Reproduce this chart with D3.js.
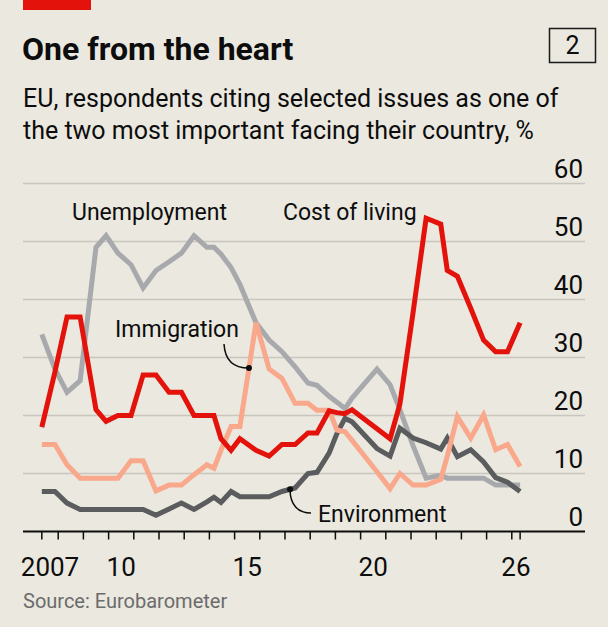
<!DOCTYPE html>
<html>
<head>
<meta charset="utf-8">
<script src="https://cdn.jsdelivr.net/npm/d3@7"></script>
<style>
  body { margin: 0; background: #eae8df; }
  svg { display: block; }
  text { font-family: "Roboto", "Liberation Sans", sans-serif; fill: #0d0d0d; }
</style>
</head>
<body>
<figure id="chart" style="margin:0"></figure>
<script>
// survey waves (decimal years)
const dates = [2007.35, 2007.87, 2008.35, 2008.87, 2009.5, 2009.9, 2010.37, 2010.89, 2011.37, 2011.88,
  2012.4, 2012.89, 2013.39, 2013.9, 2014.18, 2014.46, 2014.86, 2015.21, 2015.85, 2016.37,
  2016.88, 2017.4, 2017.91, 2018.27, 2018.75, 2019.06, 2019.38, 2019.66, 2020.65, 2021.17,
  2021.56, 2022.08, 2022.6, 2023.18, 2023.44, 2023.84, 2024.37, 2024.88, 2025.36, 2025.83, 2026.33];

const costOfLiving = [18, 27.5, 37, 37, 21, 19, 20, 20, 27, 27,
  24, 24, 20, 20, 20, 16, 14, 16, 14, 13,
  15, 15, 17, 17, 20.8, 20.5, 20.3, 21, 17.7, 16,
  22, 37.7, 54, 53, 45, 44, 38.5, 33, 31, 31, 36];

const unemployment = [34, 28, 24, 26, 49, 51, 48, 46, 42, 45,
  46.5, 48, 51, 49, 49, 47.8, 45.5, 42.6, 36, 33,
  31, 28.4, 25.6, 25.2, 23.3, 22.3, 21.2, 23, 28, 25.3,
  21, 14.8, 9.2, 9.7, 9.2, 9.2, 9.2, 9.2, 8, 8, 8];

const immigration = [15, 15, 11.5, 9.2, 9.2, 9.2, 9.2, 12.2, 12.2, 7,
  8, 8, 9.8, 11.5, 10.9, 14, 18.1, 18.1, 36, 28,
  26.4, 22.1, 22.1, 20.9, 20.9, 17.5, 17.2, 15.7, 10.3, 7.4,
  10, 8, 8, 9, 13, 19.8, 16.1, 20.1, 14.1, 15, 11.2];

const environment = [6.9, 6.9, 4.9, 3.8, 3.8, 3.8, 3.8, 3.8, 3.8, 2.8,
  3.9, 4.9, 3.8, 5.1, 5.9, 5.0, 6.9, 6.0, 6.0, 6.0,
  6.9, 7.5, 10, 10.2, 13.5, 16.9, 19.5, 18.9, 14.3, 13,
  17.8, 16.1, 15.3, 14.2, 16.1, 12.9, 14.1, 12, 9.3, 8.5, 6.9];

const yTicks = [0, 10, 20, 30, 40, 50, 60];
const xLabelYears = [2007, 2010, 2015, 2020, 2026];
const xLabelText = ["2007", "10", "15", "20", "26"];

const width = 608, height = 627;
const left = 23, right = 585;

const svg = d3.select("figure#chart")
  .append("svg")
  .attr("width", width)
  .attr("height", height);

svg.append("rect").attr("width", width).attr("height", height).attr("fill", "#eae8df");

// red tag + title
svg.append("rect").attr("x", 23).attr("y", 0).attr("width", 68).attr("height", 10).attr("fill", "#e3120b");
svg.append("text").attr("x", 22).attr("y", 60)
  .style("font-size", "32px").style("font-weight", "bold")
  .text("One from the heart");

svg.append("rect").attr("x", 549.5).attr("y", 28.5).attr("width", 46).attr("height", 34)
  .attr("fill", "none").attr("stroke", "#1a1a1a").attr("stroke-width", 1.5);
svg.append("text").attr("x", 572.5).attr("y", 54).attr("text-anchor", "middle")
  .style("font-size", "25px").text("2");

svg.append("text").attr("x", 23).attr("y", 107).style("font-size", "25px")
  .text("EU, respondents citing selected issues as one of");
svg.append("text").attr("x", 23).attr("y", 139).style("font-size", "25px")
  .text("the two most important facing their country, %");

// scales
const x = d3.scaleLinear().domain([2008, 2026]).range([58.2, 511.8]);
const y = d3.scaleLinear().domain([0, 60]).range([531.5, 183.5]);

// gridlines
svg.append("g").selectAll("line")
  .data(yTicks.filter(d => d > 0))
  .enter().append("line")
  .attr("x1", left).attr("x2", right)
  .attr("y1", d => y(d)).attr("y2", d => y(d))
  .attr("stroke", "#c9c7bd").attr("stroke-width", 1.5);

// y labels, right side, sitting on the gridlines
svg.append("g").selectAll("text")
  .data(yTicks)
  .enter().append("text")
  .attr("x", 583).attr("y", d => y(d) - 6)
  .attr("text-anchor", "end")
  .style("font-size", "26px")
  .text(d => d);

// lines
const line = d3.line()
  .x((d, i) => x(dates[i]))
  .y(d => y(d));

const series = [
  { values: unemployment, color: "#a7a9ac" },
  { values: environment, color: "#5b5c5e" },
  { values: immigration, color: "#f9a88b" },
  { values: costOfLiving, color: "#e3120b" }
];

svg.append("g").selectAll("path")
  .data(series)
  .enter().append("path")
  .attr("d", d => line(d.values))
  .attr("fill", "none")
  .attr("stroke", d => d.color)
  .attr("stroke-width", 5)
  .attr("stroke-linejoin", "miter")
  .attr("stroke-miterlimit", 3);

// x axis
const xTicks = [dates[0]].concat(d3.range(2008, 2027)).concat([dates[dates.length - 1]]);
svg.append("line")
  .attr("x1", left).attr("x2", right)
  .attr("y1", y(0)).attr("y2", y(0))
  .attr("stroke", "#0d0d0d").attr("stroke-width", 2);
svg.append("g").selectAll("line")
  .data(xTicks)
  .enter().append("line")
  .attr("x1", d => x(d)).attr("x2", d => x(d))
  .attr("y1", y(0)).attr("y2", y(0) + 8)
  .attr("stroke", "#0d0d0d").attr("stroke-width", 1.5);

// year labels centred on the part of each year covered by the data
svg.append("g").selectAll("text")
  .data(xLabelYears)
  .enter().append("text")
  .attr("x", d => {
    const a = Math.max(d, dates[0]);
    const b = Math.min(d + 1, dates[dates.length - 1]);
    return (x(a) + x(b)) / 2;
  })
  .attr("y", 576)
  .attr("text-anchor", "middle")
  .style("font-size", "26px")
  .text((d, i) => xLabelText[i]);

// labels
function valueAt(values, t) {
  const i = d3.bisectRight(dates, t) - 1;
  const f = (t - dates[i]) / (dates[i + 1] - dates[i]);
  return values[i] + f * (values[i + 1] - values[i]);
}

svg.append("text").attr("x", 72).attr("y", 220).style("font-size", "23px").text("Unemployment");
svg.append("text").attr("x", 283).attr("y", 220).style("font-size", "23px").text("Cost of living");
svg.append("text").attr("x", 115).attr("y", 337).style("font-size", "23px").text("Immigration");
svg.append("text").attr("x", 318).attr("y", 522).style("font-size", "23px").text("Environment");

// leader for immigration
const imT = 2015.57;
const imX = x(imT), imY = y(valueAt(immigration, imT));
svg.append("path")
  .attr("d", `M224,344 C225,362 236,${imY} ${imX},${imY}`)
  .attr("fill", "none").attr("stroke", "#0d0d0d").attr("stroke-width", 1.5);
svg.append("circle").attr("cx", imX).attr("cy", imY).attr("r", 3).attr("fill", "#0d0d0d");

// leader for environment
const enT = 2017.2;
const enX = x(enT), enY = y(valueAt(environment, enT));
svg.append("path")
  .attr("d", `M${enX},${enY} C${enX},505 298,513 311,513`)
  .attr("fill", "none").attr("stroke", "#0d0d0d").attr("stroke-width", 1.5);
svg.append("circle").attr("cx", enX).attr("cy", enY).attr("r", 3).attr("fill", "#0d0d0d");

svg.append("text").attr("x", 23).attr("y", 608)
  .style("font-size", "20px").style("fill", "#6b6b6b")
  .text("Source: Eurobarometer");
</script>
</body>
</html>
